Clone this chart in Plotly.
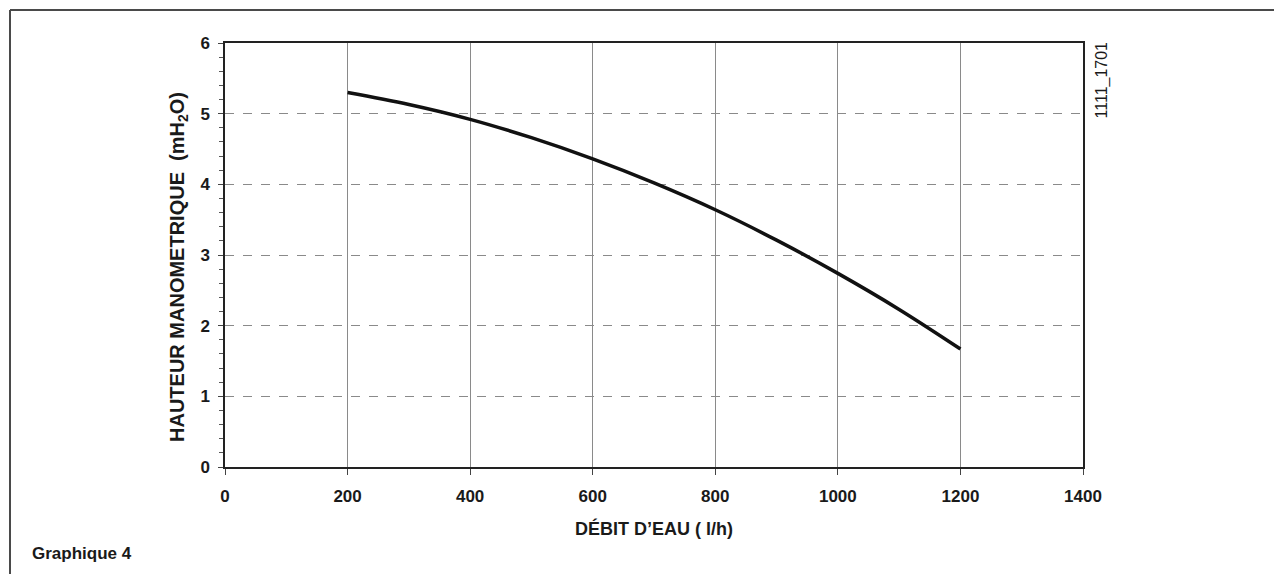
import plotly.graph_objects as go

# Data
debit = [200, 300, 400, 500, 600, 700, 800, 900, 1000, 1100, 1200]
hauteur = [5.30, 5.13, 4.92, 4.66, 4.36, 4.02, 3.64, 3.21, 2.74, 2.23, 1.67]
x_ticks = [0, 200, 400, 600, 800, 1000, 1200, 1400]
y_ticks = [0, 1, 2, 3, 4, 5, 6]

FONT = "Liberation Sans, Arial, sans-serif"

# page body has an 8px margin; figure is sized so the plot lands where the reference has it
L, T, PW, PH = 217, 35, 858, 424
FW, FH = 1274, 566

fig = go.Figure()
fig.add_trace(go.Scatter(
    x=debit, y=hauteur, mode="lines",
    line=dict(color="#111111", width=3.5, shape="spline", smoothing=1.0),
    showlegend=False, hoverinfo="skip",
))

fig.update_layout(
    width=FW, height=FH,
    margin=dict(l=L, r=FW - L - PW, t=T, b=FH - T - PH),
    paper_bgcolor="white", plot_bgcolor="white",
    font=dict(family=FONT, color="#1a1a1a"),
    xaxis=dict(
        range=[0, 1400], tickvals=x_ticks, ticktext=[str(v) for v in x_ticks],
        showline=True, linecolor="#222222", linewidth=1.5, mirror=True,
        ticks="outside", ticklen=6, tickcolor="#444444", tickwidth=1,
        showgrid=True, gridcolor="#8a8a8a", gridwidth=1,
        zeroline=False,
        tickfont=dict(family=FONT, size=17, color="#1a1a1a", weight="bold"),
        ticklabelstandoff=7,
        title=dict(text="<b>DÉBIT D’EAU ( l/h)</b>", font=dict(family=FONT, size=18, color="#1a1a1a"), standoff=17),
    ),
    yaxis=dict(
        range=[0, 6], tickvals=y_ticks, ticktext=[str(v) for v in y_ticks],
        showline=True, linecolor="#222222", linewidth=1.5, mirror=True,
        ticks="outside", ticklen=5, tickcolor="#444444", tickwidth=1,
        minor=dict(dtick=0.2, ticks="outside", ticklen=4, tickcolor="#555555", showgrid=False),
        showgrid=True, gridcolor="#8a8a8a", gridwidth=1, griddash="dash",
        zeroline=False,
        tickfont=dict(family=FONT, size=17, color="#1a1a1a", weight="bold"),
        ticklabelstandoff=5,
    ),
)

# Y axis title, placed where the reference has it
fig.add_annotation(text="<b>HAUTEUR MANOMETRIQUE  (mH<sub>2</sub>O)</b>", xref="paper", yref="paper",
                   x=0, y=(467 - 267) / PH, xshift=-47, showarrow=False, textangle=-90,
                   xanchor="center", yanchor="middle",
                   font=dict(family=FONT, size=20, color="#1a1a1a"))

# Outer frame (left and top edges), at page coords x=10 / y=10
fx = (2 - L) / PW
fy_top = (T + PH - 2) / PH
fig.add_shape(type="line", xref="x domain", yref="y domain",
              x0=fx, x1=fx, y0=fy_top, y1=(T + PH - FH) / PH,
              line=dict(color="#4a4a4a", width=2))
fig.add_shape(type="line", xref="x domain", yref="y domain",
              x0=fx, x1=(FW - L) / PW, y0=fy_top, y1=fy_top,
              line=dict(color="#4a4a4a", width=2))

fig.add_annotation(text="1111_1701", xref="paper", yref="paper", x=1.0, y=1.0,
                   xshift=18, yshift=3, showarrow=False, textangle=-90, xanchor="center", yanchor="top",
                   font=dict(family=FONT, size=16, color="#1a1a1a"))
fig.add_annotation(text="<b>Graphique 4</b>", xref="paper", yref="paper", x=0, y=0,
                   xshift=-(L - 22), yshift=-(553 - 8 - T - PH), showarrow=False, xanchor="left", yanchor="middle",
                   font=dict(family=FONT, size=17, color="#1a1a1a"))

fig.write_html("out.html")
